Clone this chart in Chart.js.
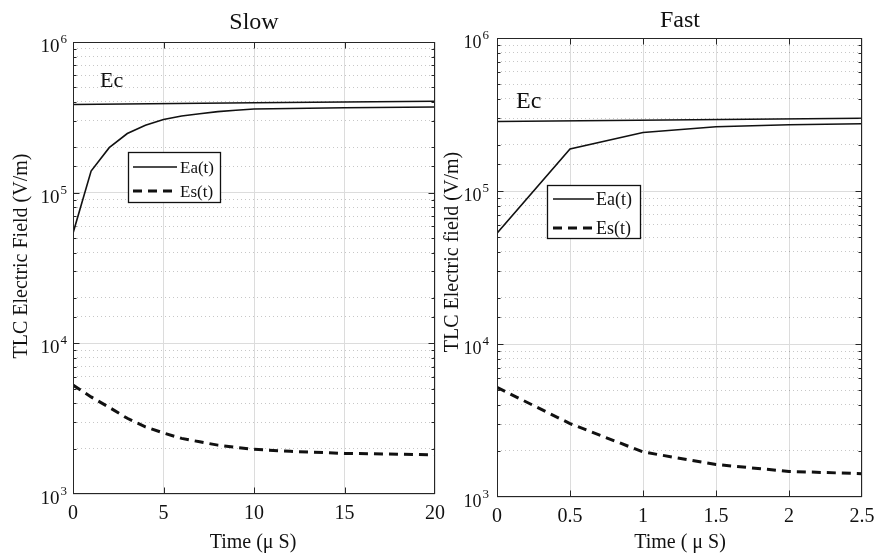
<!DOCTYPE html>
<html>
<head>
<meta charset="utf-8">
<script src="https://cdn.jsdelivr.net/npm/chart.js@4.4.1/dist/chart.umd.min.js"></script>
<style>
html, body { margin: 0; padding: 0; background: #fff; }
#wrap { position: relative; width: 875px; height: 554px; }
canvas { position: absolute; top: 0; }
</style>
</head>
<body>
<div id="wrap">
  <canvas id="slowChart" width="460" height="554" style="left:0"></canvas>
  <canvas id="fastChart" width="435" height="554" style="left:440px"></canvas>
</div>
<script>
// ---- data ----
var slowTime = [0, 1, 2, 3, 4, 5, 6, 7, 8, 9, 10, 12, 15, 20];
var slowEa = [53800, 139000, 199000, 247000, 280000, 306000, 323000, 334000, 345000, 352000, 359000, 362000, 366000, 370000];
var slowEs = [5280, 4410, 3760, 3180, 2790, 2540, 2340, 2220, 2110, 2040, 1980, 1920, 1860, 1820];
var slowEcTime = [0, 10, 20];
var slowEc = [385000, 395000, 405000];

var fastTime = [0, 0.5, 1, 1.5, 2, 2.5];
var fastEa = [53000, 188000, 241000, 263000, 271000, 275000];
var fastEs = [5200, 3020, 1970, 1630, 1470, 1420];
var fastEcTime = [0, 2.5];
var fastEc = [285000, 299000];

var yTickExp = [3, 4, 5, 6];
var legendLabels = ['Ea(t)', 'Es(t)'];

var FONT = '"Liberation Serif", "DejaVu Serif", serif';

function pts(xs, ys) {
  return xs.map(function (x, i) { return { x: x, y: ys[i] }; });
}

function isDecade(v) {
  var l = Math.log10(v);
  return Math.abs(l - Math.round(l)) < 1e-9;
}

// frame, inward ticks, y labels with exponents, titles, legend box
var deco = {
  id: 'deco',
  afterDraw: function (chart, args, o) {
    var ctx = chart.ctx, a = chart.chartArea;
    var xs = chart.scales.x, ys = chart.scales.y;
    var L = Math.round(a.left) + 0.5, R = Math.round(a.right) - 0.5;
    var T = Math.round(a.top) + 0.5, B = Math.round(a.bottom) - 0.5;
    ctx.save();

    function seg(x1, y1, x2, y2) {
      ctx.beginPath(); ctx.moveTo(x1, y1); ctx.lineTo(x2, y2); ctx.stroke();
    }
    function clamp(v, lo, hi) { return Math.min(Math.max(v, lo), hi); }

    ctx.strokeStyle = '#262626';
    ctx.lineWidth = 1;
    ctx.setLineDash([]);
    ctx.strokeRect(L, T, R - L, B - T);

    ys.ticks.forEach(function (t) {
      var y = clamp(Math.round(ys.getPixelForValue(t.value)) + 0.5, T, B);
      var len = isDecade(t.value) ? 6 : 3;
      seg(L, y, L + len, y);
      seg(R - len, y, R, y);
    });
    xs.ticks.forEach(function (t) {
      var x = clamp(Math.round(xs.getPixelForValue(t.value)) + 0.5, L, R);
      seg(x, T, x, T + 6);
      seg(x, B - 6, x, B);
    });

    ctx.fillStyle = '#111';
    // y tick labels: 10 with raised exponent
    yTickExp.forEach(function (e) {
      var y = ys.getPixelForValue(Math.pow(10, e));
      ctx.textBaseline = 'alphabetic';
      ctx.textAlign = 'right';
      ctx.font = o.expSize + 'px ' + FONT;
      var right = a.left - o.tickGap;
      ctx.fillText(String(e), right, y + 1);
      var ew = ctx.measureText(String(e)).width;
      ctx.font = o.tickSize + 'px ' + FONT;
      ctx.fillText('10', right - ew - 1, y + 10);
    });

    // panel title
    ctx.textAlign = 'center';
    ctx.textBaseline = 'alphabetic';
    ctx.font = o.titleSize + 'px ' + FONT;
    ctx.fillText(o.title, o.titleX, o.titleY);

    // x axis title
    ctx.font = '20px ' + FONT;
    ctx.fillText(o.xTitle, o.xTitleX, o.xTitleY);

    // y axis title
    ctx.save();
    ctx.translate(o.yTitleX, o.yTitleY);
    ctx.rotate(-Math.PI / 2);
    ctx.textBaseline = 'middle';
    ctx.fillText(o.yTitle, 0, 0);
    ctx.restore();

    // Ec label
    ctx.textAlign = 'left';
    ctx.font = o.ecSize + 'px ' + FONT;
    ctx.fillText('Ec', o.ecX, o.ecY);

    // legend
    var lg = o.legend;
    ctx.fillStyle = '#fff';
    ctx.fillRect(lg.x, lg.y, lg.w, lg.h);
    ctx.strokeStyle = '#111';
    ctx.lineWidth = 1.3;
    ctx.strokeRect(lg.x + 0.5, lg.y + 0.5, lg.w, lg.h);
    ctx.font = lg.size + 'px ' + FONT;
    ctx.fillStyle = '#111';
    legendLabels.forEach(function (lab, i) {
      var ds = chart.data.datasets[i + 1];
      var ry = lg.y + lg.row0 + i * lg.rowGap;
      ctx.lineWidth = ds.borderWidth;
      ctx.setLineDash(ds.borderDash || []);
      seg(lg.x + lg.lineX0, ry, lg.x + lg.lineX1, ry);
      ctx.setLineDash([]);
      ctx.fillText(lab, lg.x + lg.textX, ry + 6);
    });
    ctx.restore();
  }
};

function makeChart(id, p) {
  return new Chart(document.getElementById(id), {
    type: 'line',
    data: {
      datasets: [
        { label: 'Ec', data: pts(p.ecTime, p.ec), borderColor: '#111', borderWidth: 1.5 },
        { label: 'Ea(t)', data: pts(p.time, p.ea), borderColor: '#111', borderWidth: 1.6 },
        { label: 'Es(t)', data: pts(p.time, p.es), borderColor: '#111', borderWidth: 3, borderDash: [9, 6] }
      ]
    },
    options: {
      responsive: false,
      animation: false,
      devicePixelRatio: 1,
      layout: { padding: p.pad },
      elements: { point: { radius: 0 }, line: { tension: 0, fill: false } },
      plugins: { legend: { display: false }, tooltip: { enabled: false }, deco: p.deco },
      scales: {
        x: {
          type: 'linear', min: 0, max: p.xMax,
          ticks: {
            stepSize: p.xStep, autoSkip: false, maxRotation: 0, padding: 8,
            color: '#111', font: { family: FONT, size: 20 },
            callback: function (v) { return String(v); }
          },
          grid: { color: '#dcdcdc', lineWidth: 1, drawTicks: false },
          border: { display: false },
          afterFit: function (s) { s.height = p.xH; s.paddingLeft = 0; s.paddingRight = 0; }
        },
        y: {
          type: 'logarithmic', min: 1000, max: 1000000,
          ticks: { display: false, autoSkip: false },
          grid: {
            drawTicks: false, lineWidth: 1,
            color: function (c) { return c.tick && isDecade(c.tick.value) ? '#dcdcdc' : 'rgba(0,0,0,0.22)'; }
          },
          border: {
            display: false,
            dash: function (c) { return c.tick && !isDecade(c.tick.value) ? [1, 3] : []; }
          },
          afterFit: function (s) { s.width = p.yW; s.paddingTop = 0; s.paddingBottom = 0; }
        }
      }
    },
    plugins: [deco]
  });
}

makeChart('slowChart', {
  time: slowTime, ea: slowEa, es: slowEs, ecTime: slowEcTime, ec: slowEc,
  xMax: 20, xStep: 5, yW: 73, xH: 60,
  pad: { left: 0, top: 42, right: 25, bottom: 0 },
  deco: {
    title: 'Slow', titleX: 254, titleY: 29, titleSize: 24,
    xTitle: 'Time (\u03bc S)', xTitleX: 253, xTitleY: 548,
    yTitle: 'TLC Electric Field (V/m)', yTitleX: 22, yTitleY: 256,
    ecX: 100, ecY: 87, ecSize: 22,
    tickSize: 19, expSize: 13, tickGap: 6,
    legend: { x: 128, y: 152, w: 92, h: 50, size: 17, row0: 15, rowGap: 24, lineX0: 5, lineX1: 49, textX: 52 }
  }
});

makeChart('fastChart', {
  time: fastTime, ea: fastEa, es: fastEs, ecTime: fastEcTime, ec: fastEc,
  xMax: 2.5, xStep: 0.5, yW: 57, xH: 57,
  pad: { left: 0, top: 38, right: 13, bottom: 0 },
  deco: {
    title: 'Fast', titleX: 240, titleY: 27, titleSize: 24,
    xTitle: 'Time ( \u03bc S)', xTitleX: 240, xTitleY: 548,
    yTitle: 'TLC Electric field (V/m)', yTitleX: 13, yTitleY: 252,
    ecX: 76, ecY: 108, ecSize: 24,
    tickSize: 18, expSize: 13, tickGap: 8,
    legend: { x: 107, y: 185, w: 93, h: 53, size: 18, row0: 14, rowGap: 29, lineX0: 6, lineX1: 47, textX: 49 }
  }
});
</script>
</body>
</html>
